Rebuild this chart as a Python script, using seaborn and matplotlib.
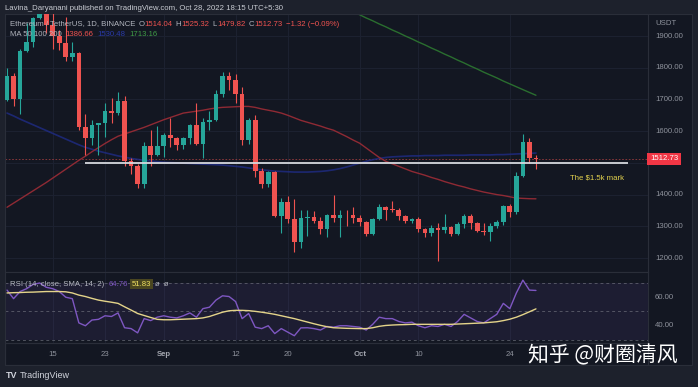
import numpy as np
import pandas as pd
import matplotlib
matplotlib.use("Agg")
import matplotlib.pyplot as plt
import matplotlib.transforms as mtransforms
from matplotlib.patches import Rectangle
import seaborn as sns

# ETH/USDT daily candles, Aug 8 - Oct 28 2022
dates = pd.date_range("2022-08-08", "2022-10-28", freq="D")

opens = [1698, 1775, 1702, 1852, 1880, 1958, 1983, 1935, 1900, 1877, 1834, 1848,
         1614, 1577, 1619, 1625, 1662, 1657, 1696, 1507, 1491, 1432, 1553, 1524,
         1554, 1587, 1577, 1556, 1577, 1618, 1561, 1629, 1636, 1718, 1774, 1762,
         1716, 1573, 1636, 1473, 1432, 1470, 1334, 1377, 1322, 1251, 1327, 1328,
         1316, 1293, 1335, 1327, 1337, 1335, 1327, 1312, 1276, 1323, 1362, 1352,
         1351, 1331, 1316, 1322, 1291, 1280, 1295, 1288, 1297, 1275, 1306, 1331,
         1310, 1286, 1283, 1300, 1314, 1363, 1344, 1459, 1565, 1514.04]
highs = [1800, 1782, 1860, 1942, 1960, 2020, 2030, 2012, 1920, 1960, 1880, 1850,
         1655, 1635, 1625, 1690, 1705, 1722, 1710, 1515, 1495, 1565, 1605, 1615,
         1595, 1643, 1580, 1580, 1624, 1688, 1640, 1663, 1730, 1785, 1785, 1780,
         1740, 1640, 1650, 1485, 1475, 1473, 1390, 1394, 1385, 1350, 1350, 1348,
         1330, 1340, 1400, 1350, 1350, 1360, 1335, 1318, 1325, 1370, 1365, 1380,
         1357, 1335, 1327, 1330, 1294, 1305, 1310, 1340, 1301, 1312, 1338, 1340,
         1315, 1311, 1310, 1320, 1367, 1370, 1472, 1590, 1577, 1525.32]
lows = [1695, 1680, 1655, 1850, 1866, 1955, 1910, 1860, 1856, 1820, 1820, 1605,
        1525, 1555, 1525, 1580, 1625, 1650, 1490, 1465, 1422, 1422, 1490, 1521,
        1520, 1551, 1540, 1545, 1560, 1556, 1515, 1605, 1633, 1707, 1730, 1690,
        1555, 1560, 1455, 1420, 1425, 1330, 1280, 1310, 1220, 1230, 1270, 1310,
        1276, 1265, 1315, 1265, 1300, 1310, 1301, 1270, 1271, 1320, 1320, 1345,
        1320, 1311, 1310, 1283, 1265, 1270, 1190, 1280, 1270, 1272, 1295, 1290,
        1281, 1272, 1255, 1295, 1305, 1329, 1338, 1457, 1500, 1479.82]
closes = [1775, 1702, 1852, 1880, 1958, 1983, 1935, 1900, 1877, 1834, 1848, 1614,
          1577, 1619, 1625, 1662, 1657, 1696, 1507, 1491, 1432, 1553, 1524, 1554,
          1587, 1577, 1556, 1577, 1618, 1561, 1629, 1636, 1718, 1774, 1762, 1716,
          1573, 1636, 1473, 1432, 1470, 1334, 1377, 1322, 1251, 1327, 1328, 1316,
          1293, 1335, 1327, 1337, 1335, 1327, 1312, 1276, 1323, 1362, 1352, 1351,
          1331, 1316, 1322, 1291, 1280, 1295, 1288, 1297, 1275, 1306, 1331, 1310,
          1286, 1283, 1300, 1314, 1363, 1344, 1459, 1565, 1514, 1512.73]

# moving averages
ma50 = [1360, 1373, 1386, 1399, 1412, 1425, 1438, 1452, 1466, 1480, 1494, 1508,
        1521, 1535, 1548, 1561, 1573, 1584, 1591, 1598, 1605, 1612, 1620, 1628,
        1636, 1643, 1650, 1657, 1660, 1663, 1666, 1670, 1673, 1675, 1676, 1677,
        1678, 1678, 1675, 1670, 1666, 1662, 1657, 1650, 1642, 1634, 1628, 1622,
        1616, 1609, 1603, 1593, 1583, 1572, 1562, 1547, 1532, 1517, 1505, 1497,
        1489, 1481, 1473, 1467, 1461, 1454, 1448, 1441, 1435, 1429, 1424, 1418,
        1413, 1408, 1404, 1400, 1397, 1393, 1389, 1388, 1387, 1386.66]
ma100 = [1657, 1648, 1638, 1629, 1620, 1611, 1602, 1593, 1584, 1575, 1566, 1557,
         1549, 1543, 1537, 1532, 1527, 1522, 1518, 1514, 1511, 1508, 1506, 1504,
         1502, 1501, 1500, 1499, 1498, 1497, 1496, 1495, 1494, 1493, 1491, 1489,
         1487, 1484, 1481, 1478, 1476, 1474, 1473, 1472, 1471, 1471, 1471, 1472,
         1473, 1475, 1478, 1482, 1487, 1493, 1499, 1505, 1510, 1514, 1517, 1519,
         1520, 1521, 1522, 1522, 1523, 1523, 1523, 1524, 1524, 1524, 1524, 1525,
         1525, 1525, 1525, 1526, 1526, 1527, 1528, 1529, 1530, 1531]
ma200 = [np.nan] * 50 + [
    2005, 1995, 1986, 1976, 1967, 1957, 1948, 1938, 1929, 1919, 1910, 1900,
    1891, 1881, 1872, 1862, 1853, 1843, 1834, 1824, 1815, 1805, 1796, 1786,
    1777, 1768, 1758, 1749, 1740, 1731, 1722, 1713.16]

# RSI(14) and its SMA(14)
rsi = [65, 59, 64, 66, 69, 70, 67, 66, 64, 60, 59, 42, 40, 44, 44.5, 47, 46.5,
       49, 38.6, 38, 35, 45, 43.6, 46, 47, 46, 45.5, 47, 49, 46, 52, 53, 58, 61,
       60.5, 57, 45, 48.6, 39, 38, 40, 34.5, 38, 35.5, 33, 38.5, 38.6, 38, 37,
       39.5, 39, 40, 40, 39.5, 39, 37, 41, 46, 45, 45, 43, 42, 42.5, 40, 38.6,
       40, 39.5, 41, 39.5, 43, 48, 45.5, 43, 42, 45, 48, 55.7, 52, 63, 72, 65,
       64.76]
rsi_sma = [63, 63.2, 63.3, 63.5, 63.6, 63.8, 64, 64, 64, 63.8, 63, 61.5, 60.5,
           59.2, 58, 57.2, 56.5, 55.7, 53.3, 51, 48.6, 47.2, 45.8, 44.5, 44.2,
           44.2, 44.4, 44.6, 44.8, 45, 45.5, 46.5, 48, 49.5, 50.5, 50.8, 50.8,
           50.6, 50.1, 49.5, 48.8, 48, 47, 46, 45, 43.8, 42.6, 41.4, 40.3, 39.3,
           38.6, 38.4, 38.2, 38.1, 38, 38, 38.6, 39.6, 40.2, 40.5, 40.7, 40.8, 41,
           41, 41, 41, 41, 41, 41, 41.2, 41.4, 41.6, 41.8, 42, 42.4, 42.8, 43.6,
           44.6, 46, 47.8, 49.8, 51.83]

price_ticks = [1900, 1800, 1700, 1600, 1500, 1400, 1300, 1200]
time_ticks = [("2022-08-15", "15"), ("2022-08-23", "23"), ("2022-09-01", "Sep"),
              ("2022-09-12", "12"), ("2022-09-20", "20"), ("2022-10-01", "Oct"),
              ("2022-10-10", "10"), ("2022-10-24", "24")]

df = pd.DataFrame({"day": np.arange(len(dates)), "open": opens, "high": highs,
                   "low": lows, "close": closes, "ma50": ma50, "ma100": ma100,
                   "ma200": ma200, "rsi": rsi, "rsi_sma": rsi_sma})

BG = "#131722"
FRAME = "#1d212c"
GRID = "#1c2130"
BORDER = "#2a2e39"
UP = "#26a69a"
DOWN = "#ef5350"
TXT = "#8e929c"
LEG = "#b2b5be"
FS = 5.6

sns.set_theme(style="dark")
plt.rcParams["font.family"] = ["Liberation Sans", "DejaVu Sans"]

W, H = 698, 387
fig = plt.figure(figsize=(W / 100, H / 100), dpi=100, facecolor=FRAME)
renderer = fig.canvas.get_renderer()


def fx(px):
    return px / W


def fy(py):
    return 1 - py / H


def text_row(x0, y0, parts):
    """coloured pieces written left to right; each part is (text, colour, gap after, extra kw)"""
    x = x0
    for s, c, gap, kw in parts:
        t = fig.text(fx(x), fy(y0), s, color=c, fontsize=FS, va="center",
                     ha="left", **kw)
        x += t.get_window_extent(renderer).width + gap


# chart panel background
fig.patches.append(Rectangle((fx(5), fy(365)), fx(687), (365 - 14) / H,
                             transform=fig.transFigure, facecolor=BG,
                             edgecolor=BORDER, lw=0.8, zorder=-5))

ax = fig.add_axes([fx(5), fy(272), fx(643), (272 - 14) / H])
rax = fig.add_axes([fx(5), fy(343), fx(643), (343 - 272) / H])

for a in (ax, rax):
    a.set_facecolor(BG)
    for s in a.spines.values():
        s.set_color(BORDER)
        s.set_linewidth(0.8)

tick_idx = [int((pd.Timestamp(d) - dates[0]).days) for d, _ in time_ticks]

# grid
for p in price_ticks:
    ax.axhline(p, color=GRID, lw=0.8, zorder=0)
for i in tick_idx:
    ax.axvline(i, color=GRID, lw=0.8, zorder=0)
    rax.axvline(i, color=GRID, lw=0.8, zorder=0)

# candles
is_up = df["close"] >= df["open"]
colors = np.where(is_up, UP, DOWN)
ax.vlines(df["day"], df["low"], df["high"], colors=colors, lw=0.8, zorder=3)
body_lo = np.minimum(df["open"], df["close"])
body_h = np.maximum(np.abs(df["close"] - df["open"]), 2)
ax.bar(df["day"], body_h, bottom=body_lo, width=0.72, color=colors, zorder=4,
       linewidth=0)

# moving averages
sns.lineplot(data=df, x="day", y="ma100", ax=ax, color="#1f2c86", lw=1.2,
             alpha=0.8, zorder=2)
sns.lineplot(data=df, x="day", y="ma50", ax=ax, color="#8f2a34", lw=1.0, zorder=2)
sns.lineplot(data=df, x="day", y="ma200", ax=ax, color="#2a6e2f", lw=1.0, zorder=2)

# last price line, $1.5k level
ax.axhline(closes[-1], color=DOWN, lw=0.6, ls=(0, (2, 2)), alpha=0.6, zorder=1)
ax.hlines(1500, 11.9, 95.1, color="#d6d8de", lw=1.3, zorder=5)
ax.text(86.2, 1452, "The $1.5k mark", color="#e3d24e", fontsize=FS,
        va="center", ha="left")

ax.set_xlim(-0.31, 98.16)
ax.set_ylim(1155.9, 1969.4)
ax.set_xlabel("")
ax.set_ylabel("")
ax.set_xticks([])
ax.set_yticks([])

# price scale
ptr = mtransforms.blended_transform_factory(ax.transAxes, ax.transData)
for p in price_ticks:
    if p == 1500:
        continue
    ax.text(1.0109, p, f"{p:.2f}", transform=ptr, color=TXT, fontsize=FS,
            va="center", ha="left", clip_on=False)
ax.text(1.0109, 1941, "USDT", transform=ptr, color=TXT, fontsize=FS,
        va="center", ha="left", clip_on=False)
ax.text(1.003, closes[-1], "1512.73", transform=ptr, color="white",
        fontsize=FS, va="center", ha="left", clip_on=False,
        bbox=dict(boxstyle="square,pad=0.35", facecolor="#f23645",
                  edgecolor="none"))

# RSI panel
rax.axhspan(30, 70, color="#7e57c2", alpha=0.10, lw=0, zorder=0)
for lvl in (70, 50, 30):
    rax.axhline(lvl, color="#787b86", lw=0.7, ls=(0, (3, 3)), alpha=0.6, zorder=1)
sns.lineplot(data=df, x="day", y="rsi", ax=rax, color="#7e57c2", lw=1.0, zorder=3)
sns.lineplot(data=df, x="day", y="rsi_sma", ax=rax, color="#e4d48a", lw=1.0, zorder=3)
rax.set_xlim(-0.31, 98.16)
rax.set_ylim(27.9, 77.7)
rax.set_xlabel("")
rax.set_ylabel("")
rax.set_xticks([])
rax.set_yticks([])
rtr = mtransforms.blended_transform_factory(rax.transAxes, rax.transData)
for lvl in (60, 40):
    rax.text(1.0109, lvl, f"{lvl:.2f}", transform=rtr, color=TXT, fontsize=FS,
             va="center", ha="left", clip_on=False)

# time scale
ttr = mtransforms.blended_transform_factory(rax.transData, fig.transFigure)
for i, (_, lab) in zip(tick_idx, time_ticks):
    bold = lab in ("Sep", "Oct")
    rax.text(i, fy(355), lab, transform=ttr, ha="center", va="center",
             fontsize=FS, color="#a3a6af" if bold else TXT,
             fontweight="bold" if bold else "normal", clip_on=False)
fig.patches.append(Rectangle((fx(5), fy(365)), fx(643), 22 / H,
                             transform=fig.transFigure, facecolor="none",
                             edgecolor=BORDER, lw=0.8, zorder=1))

# legends
fig.text(fx(5), fy(8), "Lavina_Daryanani published on TradingView.com, "
         "Oct 28, 2022 18:15 UTC+5:30", color="#c9ccd3", fontsize=FS,
         va="center", ha="left")
text_row(10, 24, [("Ethereum / TetherUS, 1D, BINANCE", LEG, 3, {}),
                  ("O", LEG, 0.3, {}), ("1514.04", DOWN, 3, {}),
                  ("H", LEG, 0.3, {}), ("1525.32", DOWN, 3, {}),
                  ("L", LEG, 0.3, {}), ("1479.82", DOWN, 3, {}),
                  ("C", LEG, 0.3, {}), ("1512.73", DOWN, 3, {}),
                  ("\u22121.32 (\u22120.09%)", DOWN, 0, {})])
text_row(10, 35, [("MA 50 100 200", LEG, 4, {}), ("1386.66", DOWN, 4, {}),
                  ("1530.48", "#2a3aa8", 4, {}), ("1713.16", "#3f9a46", 0, {})])
text_row(10, 284, [("RSI (14, close, SMA, 14, 2)", LEG, 4, {}),
                   ("64.76", "#7e57c2", 4, {}),
                   ("51.83", "#f0e060", 4,
                    {"bbox": dict(boxstyle="square,pad=0.2",
                                  facecolor="#4a4620", edgecolor="none")}),
                   ("\u00f8  \u00f8", LEG, 0, {})])

# footer
fig.text(fx(6), fy(376), "TV", color="#d1d4dc", fontsize=6.5, fontweight="bold",
         va="center")
fig.text(fx(20), fy(376), "TradingView", color="#d1d4dc", fontsize=6.5,
         va="center")

# watermark
fig.text(fx(528), fy(355), "知乎 @财圈清风", color="white", fontsize=15,
         va="center", ha="left", family=["Noto Sans CJK SC", "DejaVu Sans"])

fig.savefig("out.png", dpi=100, facecolor=FRAME)
